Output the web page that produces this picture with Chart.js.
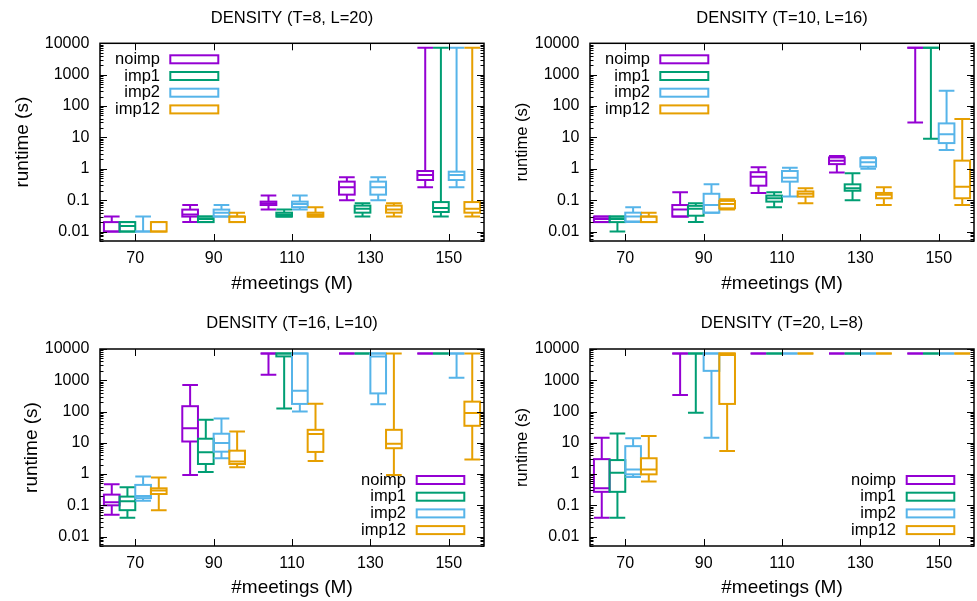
<!DOCTYPE html>
<html><head><meta charset="utf-8">
<script src="https://cdn.jsdelivr.net/npm/chart.js@4.4.0/dist/chart.umd.min.js"></script>
<style>
html,body{margin:0;padding:0;background:#fff;width:977px;height:601px;overflow:hidden;}
canvas{position:absolute;}
</style></head><body>
<canvas id="c1" width="490" height="300" style="left:0;top:0"></canvas>
<canvas id="c2" width="487" height="300" style="left:490px;top:0"></canvas>
<canvas id="c3" width="490" height="301" style="left:0;top:300px"></canvas>
<canvas id="c4" width="487" height="301" style="left:490px;top:300px"></canvas>
<script>
// ---------- data ----------
const meetings = [70, 90, 110, 130, 150];
const seriesNames = ['noimp', 'imp1', 'imp2', 'imp12'];
const seriesColors = ['#9400d3', '#009e73', '#56b4e9', '#e69f00'];
const yTickValues = [0.01, 0.1, 1, 10, 100, 1000, 10000];
const xTickValues = [70, 90, 110, 130, 150];
const panelTitles = ['DENSITY (T=8, L=20)', 'DENSITY (T=10, L=16)', 'DENSITY (T=16, L=10)', 'DENSITY (T=20, L=8)'];

// each entry: [low whisker, Q1, median, Q3, high whisker] for M = 70, 90, 110, 130, 150
const p1_noimp = [[0.01,0.01,0.01,0.02,0.03],[0.02,0.03,0.035,0.05,0.07],[0.05,0.07,0.08,0.09,0.14],[0.1,0.15,0.26,0.39,0.54],[0.26,0.44,0.64,0.85,7200]];
const p1_imp1  = [[0.01,0.01,0.015,0.02,0.02],[0.02,0.02,0.025,0.03,0.03],[0.03,0.03,0.035,0.04,0.05],[0.03,0.04,0.053,0.067,0.08],[0.03,0.042,0.056,0.087,7200]];
const p1_imp2  = [[0.01,0.01,0.01,0.01,0.03],[0.03,0.03,0.04,0.05,0.07],[0.05,0.06,0.075,0.09,0.14],[0.1,0.15,0.26,0.39,0.54],[0.26,0.44,0.64,0.81,7200]];
const p1_imp12 = [[0.01,0.01,0.01,0.02,0.02],[0.02,0.02,0.03,0.03,0.04],[0.03,0.03,0.035,0.04,0.06],[0.03,0.04,0.05,0.067,0.08],[0.03,0.04,0.053,0.087,7200]];

const p2_noimp = [[0.02,0.02,0.025,0.03,0.03],[0.03,0.03,0.05,0.07,0.18],[0.17,0.29,0.56,0.78,1.12],[0.76,1.41,1.82,2.3,2.57],[30,7200,7200,7200,7200]];
const p2_imp1  = [[0.01,0.02,0.025,0.03,0.03],[0.02,0.032,0.053,0.066,0.08],[0.06,0.09,0.115,0.14,0.18],[0.1,0.2,0.24,0.32,0.72],[9,7200,7200,7200,7200]];
const p2_imp2  = [[0.02,0.021,0.03,0.04,0.06],[0.04,0.04,0.07,0.16,0.32],[0.13,0.39,0.52,0.85,1.09],[1.0,1.17,1.62,2.18,2.34],[4,6.6,12.6,28,310]];
const p2_imp12 = [[0.02,0.02,0.03,0.03,0.04],[0.05,0.055,0.076,0.095,0.107],[0.08,0.13,0.16,0.19,0.24],[0.07,0.115,0.15,0.17,0.26],[0.07,0.115,0.27,1.82,39]];

const p3_noimp = [[0.05,0.1,0.125,0.22,0.47],[0.93,11,29,148,700],[1500,7200,7200,7200,7200],[7200,7200,7200,7200,7200],[7200,7200,7200,7200,7200]];
const p3_imp1  = [[0.04,0.07,0.135,0.19,0.38],[1.17,2.1,5,13.5,55],[125,5800,7200,7200,7200],[7200,7200,7200,7200,7200],[7200,7200,7200,7200,7200]];
const p3_imp2  = [[0.14,0.17,0.2,0.45,0.83],[3.2,5.2,9.8,19.5,60],[100,175,465,7200,7200],[170,380,5800,7200,7200],[1200,7200,7200,7200,7200]];
const p3_imp12 = [[0.07,0.23,0.3,0.35,0.77],[1.65,2.1,2.5,5.6,23],[2.6,5.1,19,26,178],[0.93,6.7,9.4,26,7200],[2.9,35,90,207,7200]];

const p4_noimp = [[0.04,0.27,0.35,3.0,14.5],[340,7200,7200,7200,7200],[7200,7200,7200,7200,7200],[7200,7200,7200,7200,7200],[7200,7200,7200,7200,7200]];
const p4_imp1  = [[0.04,0.27,1.1,2.8,20],[92,7200,7200,7200,7200],[7200,7200,7200,7200,7200],[7200,7200,7200,7200,7200],[7200,7200,7200,7200,7200]];
const p4_imp2  = [[0.81,0.98,1.4,7.8,14],[14.5,2000,7200,7200,7200],[7200,7200,7200,7200,7200],[7200,7200,7200,7200,7200],[7200,7200,7200,7200,7200]];
const p4_imp12 = [[0.58,0.98,1.4,3.2,16.5],[5.5,175,6400,7200,7200],[7200,7200,7200,7200,7200],[7200,7200,7200,7200,7200],[7200,7200,7200,7200,7200]];

// ---------- drawing ----------
const FONT = "'Liberation Sans', Arial, sans-serif";
const OFFSETS = [-6, -2, 2, 6];
const HALF = 2;

const boxPlugin = {
  id: 'boxes',
  afterDatasetsDraw(chart) {
    const {ctx, scales: {x, y}} = chart;
    ctx.save();
    ctx.lineWidth = 2;
    ctx.lineCap = 'butt';
    chart.data.datasets.forEach(ds => {
      ctx.strokeStyle = ds.borderColor;
      ds.boxStats.forEach((st, i) => {
        const c = ds.data[i].x;
        const xl = x.getPixelForValue(c - HALF), xr = x.getPixelForValue(c + HALF), xc = x.getPixelForValue(c);
        const [lo, q1, med, q3, hi] = st.map(v => y.getPixelForValue(v));
        ctx.beginPath();
        if (q3 - hi > 0.5) { ctx.moveTo(xc, q3); ctx.lineTo(xc, hi); }
        if (lo - q1 > 0.5) { ctx.moveTo(xc, q1); ctx.lineTo(xc, lo); }
        ctx.moveTo(xl, hi); ctx.lineTo(xr, hi);
        ctx.moveTo(xl, lo); ctx.lineTo(xr, lo);
        ctx.moveTo(xl, med); ctx.lineTo(xr, med);
        ctx.stroke();
        ctx.strokeRect(xl, q3, xr - xl, q1 - q3);
      });
    });
    ctx.restore();
  }
};

const framePlugin = {
  id: 'frame',
  afterDraw(chart) {
    const {ctx, chartArea: a, scales: {x, y}} = chart;
    ctx.save();
    ctx.strokeStyle = '#000';
    ctx.lineWidth = 1;
    ctx.beginPath();
    for (let e = -3; e <= 4; e++) {
      for (let m = 1; m <= 9; m++) {
        const v = m * Math.pow(10, e);
        if (v < y.min || v > y.max) continue;
        const py = Math.round(y.getPixelForValue(v)) + 0.5;
        const len = m === 1 ? 7 : 3.5;
        ctx.moveTo(a.left, py); ctx.lineTo(a.left + len, py);
        ctx.moveTo(a.right, py); ctx.lineTo(a.right - len, py);
      }
    }
    xTickValues.forEach(v => {
      const px = Math.round(x.getPixelForValue(v)) + 0.5;
      ctx.moveTo(px, a.bottom); ctx.lineTo(px, a.bottom - 7);
      ctx.moveTo(px, a.top); ctx.lineTo(px, a.top + 7);
    });
    ctx.stroke();
    ctx.lineWidth = 1.5;
    ctx.strokeRect(a.left, a.top, a.right - a.left, a.bottom - a.top);
    ctx.restore();
  }
};

const legendPlugin = {
  id: 'boxLegend',
  afterDraw(chart, args, opts) {
    const {ctx, chartArea: a} = chart;
    ctx.save();
    ctx.font = '16.5px ' + FONT;
    ctx.textAlign = 'right';
    ctx.textBaseline = 'middle';
    ctx.lineWidth = 2;
    chart.data.datasets.forEach((ds, i) => {
      let ty, tx, bx0, bx1;
      if (opts.corner === 'topLeft') {
        ty = a.top + 16 + i * 16.7; tx = a.left + 60; bx0 = a.left + 70.3; bx1 = a.left + 118.3;
      } else {
        ty = a.bottom - 66 + i * 16.7; tx = a.right - 78; bx0 = a.right - 67.3; bx1 = a.right - 19.7;
      }
      ctx.fillStyle = '#000';
      ctx.fillText(ds.label, tx, ty);
      ctx.strokeStyle = ds.borderColor;
      ctx.strokeRect(bx0, ty - 4, bx1 - bx0, 8);
    });
    ctx.restore();
  }
};

function makePanel(id, title, series, cfg) {
  const canvas = document.getElementById(id);
  const H = canvas.height;
  const datasets = series.map((stats, s) => ({
    label: seriesNames[s],
    borderColor: seriesColors[s],
    backgroundColor: seriesColors[s],
    boxStats: stats,
    data: meetings.map((m, i) => ({x: m + OFFSETS[s], y: stats[i][2]})),
    pointRadius: 0,
    showLine: false
  }));
  new Chart(canvas, {
    type: 'scatter',
    data: {datasets},
    plugins: [boxPlugin, framePlugin, legendPlugin],
    options: {
      responsive: false,
      animation: false,
      devicePixelRatio: 1,
      layout: {padding: {left: 0, right: cfg.padRight, top: 0, bottom: 0}},
      plugins: {
        legend: {display: false},
        tooltip: {enabled: false},
        title: {
          display: true, text: title, color: '#000', fullSize: false,
          font: {family: FONT, size: 16.5, weight: 'normal', lineHeight: 1.2},
          padding: {top: cfg.titleTop, bottom: cfg.chartTop - cfg.titleTop - 19.8}
        },
        boxLegend: {corner: cfg.legend}
      },
      scales: {
        x: {
          type: 'linear', min: 61, max: 159,
          grid: {display: false, drawTicks: false},
          border: {display: false},
          afterBuildTicks: s => { s.ticks = xTickValues.map(v => ({value: v})); },
          afterFit: s => { s.height = H - cfg.chartBottom; },
          ticks: {color: '#000', font: {family: FONT, size: 16}, padding: 7.7, maxRotation: 0, autoSkip: false},
          title: {display: true, text: '#meetings (M)', color: '#000',
                  font: {family: FONT, size: 19, lineHeight: 1.2}, padding: {top: 0, bottom: cfg.xTitlePad}}
        },
        y: {
          type: 'logarithmic', min: 0.005, max: 10000,
          grid: {display: false, drawTicks: false},
          border: {display: false},
          afterBuildTicks: s => { s.ticks = yTickValues.map(v => ({value: v})); },
          afterFit: s => { s.width = 100; },
          ticks: {color: '#000', font: {family: FONT, size: 16}, padding: 10.7, autoSkip: false,
                  callback: v => String(v)},
          title: {display: true, text: 'runtime (s)', color: '#000',
                  font: {family: FONT, size: cfg.yTitleSize, lineHeight: 1.2}, padding: {top: cfg.yTitlePad, bottom: 0}}
        }
      }
    }
  });
}

makePanel('c1', panelTitles[0], [p1_noimp, p1_imp1, p1_imp2, p1_imp12],
  {padRight: 6, chartTop: 43.3, chartBottom: 241, titleTop: 8.8, legend: 'topLeft', xTitlePad: 5.0, yTitleSize: 19, yTitlePad: 11.1});
makePanel('c2', panelTitles[1], [p2_noimp, p2_imp1, p2_imp2, p2_imp12],
  {padRight: 3, chartTop: 43.3, chartBottom: 241, titleTop: 8.8, legend: 'topLeft', xTitlePad: 5.0, yTitleSize: 16.5, yTitlePad: 22.8});
makePanel('c3', panelTitles[2], [p3_noimp, p3_imp1, p3_imp2, p3_imp12],
  {padRight: 6, chartTop: 49, chartBottom: 246, titleTop: 13.9, legend: 'bottomRight', xTitlePad: 2.3, yTitleSize: 19, yTitlePad: 20.3});
makePanel('c4', panelTitles[3], [p4_noimp, p4_imp1, p4_imp2, p4_imp12],
  {padRight: 3, chartTop: 49, chartBottom: 246, titleTop: 13.9, legend: 'bottomRight', xTitlePad: 2.3, yTitleSize: 16.5, yTitlePad: 22.6});
</script>
</body></html>
